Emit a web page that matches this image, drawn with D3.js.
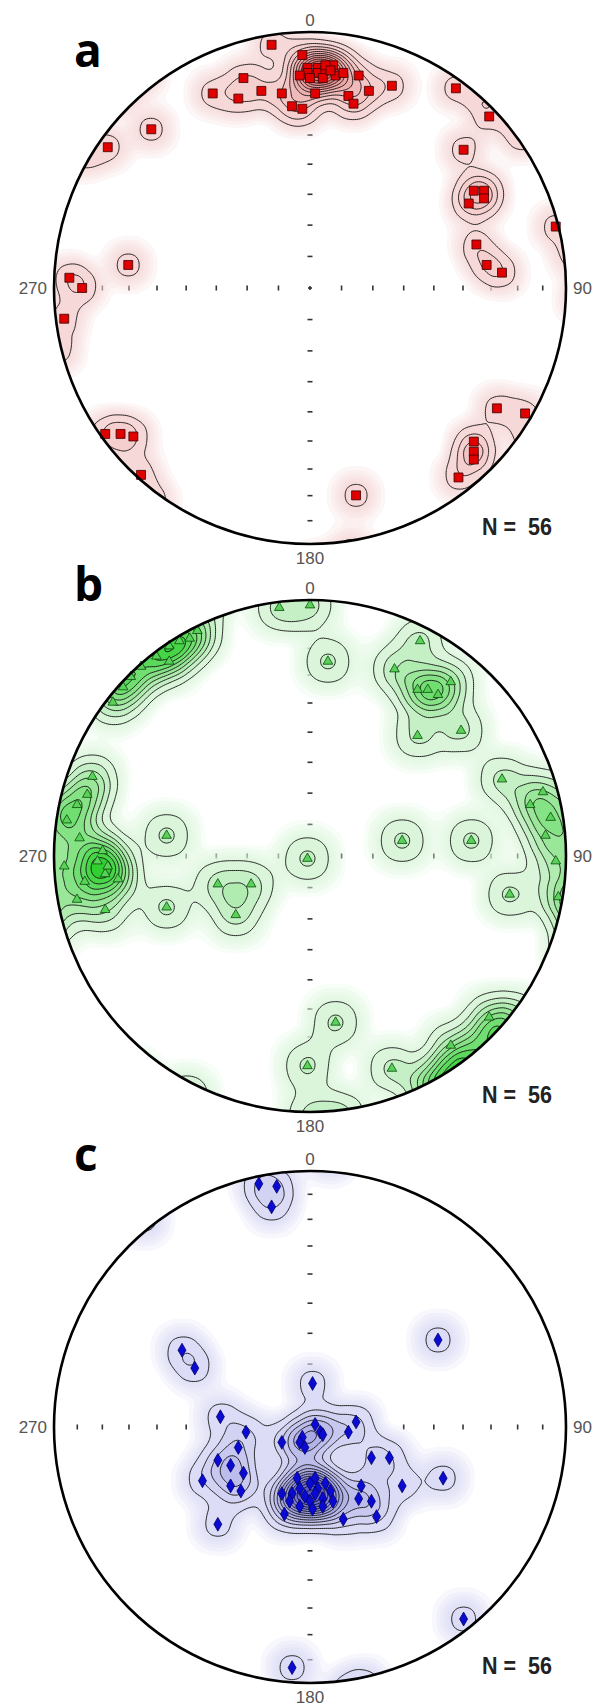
<!DOCTYPE html>
<html>
<head>
<meta charset="utf-8">
<script src="https://cdn.jsdelivr.net/npm/d3@7"></script>
<style>
  body { margin: 0; background: #fff; }
  svg { display: block; }
</style>
</head>
<body>
<div id="chart"></div>
<script>
// poles on the net, east / north as a fraction of the net radius
const aEast  = [-0.15,-0.03,-0.26,-0.38,-0.28,-0.19,-0.11,-0.07,-0.03,-0.01,0.03,-0.01,-0.04,0.03,0.06,0.09,0.10,0.13,0.19,0.23,0.32,0.02,0.15,0.17,0.06,0.05,0.08,0.00,
                0.57,0.70,-0.62,-0.79,0.60,0.64,0.68,0.62,0.68,0.65,0.69,0.75,0.96,-0.71,-0.94,-0.89,-0.96,-0.80,-0.74,-0.69,-0.66,0.73,0.84,0.64,0.64,0.64,0.58,0.18];
const aNorth = [0.95,0.91,0.82,0.76,0.74,0.77,0.76,0.71,0.70,0.86,0.86,0.84,0.83,0.84,0.85,0.87,0.83,0.84,0.83,0.77,0.79,0.76,0.75,0.72,0.87,0.82,0.85,0.82,
                0.78,0.67,0.62,0.55,0.54,0.38,0.38,0.33,0.35,0.17,0.09,0.06,0.24,0.09,0.04,0.00,-0.12,-0.57,-0.57,-0.58,-0.73,-0.47,-0.49,-0.60,-0.64,-0.67,-0.74,-0.81];

const bEast  = [-0.12,0.00,-0.44,-0.47,-0.55,-0.55,-0.66,-0.70,-0.77,-0.51,0.07,0.43,0.33,0.46,0.42,0.50,0.55,0.42,0.59,0.75,0.86,0.91,0.96,0.94,0.97,0.78,0.92,
                -0.56,-0.56,-0.36,-0.23,-0.29,-0.01,0.36,0.63,-0.91,-0.85,-0.95,-0.90,-0.83,-0.80,-0.81,-0.96,-0.91,-0.80,-0.75,-0.87,-0.79,0.10,-0.01,0.32,0.55,0.70,-0.60,-0.73,-0.88];
const bNorth = [0.97,0.98,0.88,0.85,0.82,0.76,0.74,0.70,0.60,0.84,0.76,0.84,0.73,0.65,0.65,0.63,0.68,0.47,0.49,0.30,0.20,0.25,-0.02,0.15,-0.16,-0.15,0.08,
                0.08,-0.20,-0.11,-0.11,-0.23,-0.01,0.06,0.06,0.20,0.31,0.14,0.07,-0.02,-0.07,0.02,-0.04,-0.17,-0.21,-0.09,0.24,-0.04,-0.65,-0.82,-0.83,-0.74,-0.63,0.78,0.66,-0.10];

const cEast  = [-0.20,-0.13,-0.15,-0.50,-0.45,0.50,0.01,-0.35,-0.25,-0.28,-0.36,-0.31,-0.26,-0.42,-0.31,-0.27,-0.36,0.18,0.15,0.02,0.04,0.05,-0.03,-0.04,-0.02,-0.11,
                0.24,0.31,0.20,0.36,0.19,0.24,0.26,0.13,0.52,0.60,-0.07,0.00,-0.04,0.03,0.06,-0.07,-0.02,0.02,0.05,-0.11,-0.08,0.00,-0.04,0.05,-0.10,0.01,0.08,0.09,-0.05,0.02];
const cNorth = [0.95,0.94,0.86,0.30,0.23,0.34,0.17,0.04,-0.02,-0.08,-0.13,-0.15,-0.18,-0.21,-0.23,-0.25,-0.38,0.02,-0.02,0.01,-0.02,-0.03,-0.04,-0.06,-0.08,-0.06,
                -0.12,-0.12,-0.23,-0.23,-0.28,-0.29,-0.35,-0.36,-0.20,-0.75,-0.94,-0.22,-0.24,-0.24,-0.22,-0.26,-0.27,-0.26,-0.28,-0.26,-0.29,-0.29,-0.31,-0.31,-0.34,-0.32,-0.25,-0.29,-0.20,-0.20];

const tickAngles = [10, 20, 30, 40, 50, 60, 70, 80];   // degrees from the centre
const panelLetters = ['a', 'b', 'c'];
const countLabel = 'N =  56';

const width = 600, height = 1706, R = 256, cx = 310;

const svg = d3.select('#chart').append('svg')
    .attr('width', width)
    .attr('height', height);
svg.append('rect').attr('width', width).attr('height', height).attr('fill', '#fff');

const panels = [
    { cy: 288,  east: aEast, north: aNorth, bw: 12, step: 0.6,  lo: '#f7d8d8', hi: '#dc6a6a',
      symbol: d3.symbolSquare, size: 80, fill: '#e10000', stroke: '#3a0000', letterY: -221 },
    { cy: 856,  east: bEast, north: bNorth, bw: 15, step: 0.38, lo: '#daf5da', hi: '#30d030',
      symbol: d3.symbolTriangle, size: 40, fill: '#5ad25a', stroke: '#0b4a0b', letterY: -255 },
    { cy: 1427, east: cEast, north: cNorth, bw: 13, step: 0.6, lo: '#dcdcf6', hi: '#5656c6',
      symbol: d3.symbolDiamond, size: 55, fill: '#0a0ad2', stroke: '#00006a', letterY: -256 }
];

const x = d3.scaleLinear().domain([-1, 1]).range([-R, R]);
const y = d3.scaleLinear().domain([-1, 1]).range([R, -R]);
// equal-area radius of an angle from the centre
const ea = a => Math.SQRT2 * Math.sin(a * Math.PI / 360);

panels.forEach((p, pi) => {
    const g = svg.append('g').attr('transform', `translate(${cx},${p.cy})`);
    const clipId = 'clip' + pi;
    g.append('clipPath').attr('id', clipId).append('circle').attr('r', R);

    g.append('circle').attr('r', R).attr('fill', '#fff');

    // ticks along the two diameters
    const t = g.append('g').attr('stroke', '#333').attr('stroke-width', 1.6);
    tickAngles.forEach(a => {
        [-1, 1].forEach(s => {
            t.append('line').attr('x1', x(s * ea(a))).attr('x2', x(s * ea(a)))
                .attr('y1', -2.5).attr('y2', 2.5);
            t.append('line').attr('y1', y(s * ea(a))).attr('y2', y(s * ea(a)))
                .attr('x1', -2.5).attr('x2', 2.5);
        });
    });
    t.append('line').attr('x1', -2).attr('x2', 2);
    t.append('line').attr('y1', -2).attr('y2', 2);

    // density: points near the rim also count on the opposite side
    const pts = [];
    p.east.forEach((e, i) => {
        const n = p.north[i];
        pts.push([e, n]);
        const r = Math.hypot(e, n);
        if (r > 0.7) {
            const k = -(2 - r) / r;
            pts.push([e * k, n * k]);
        }
    });
    const off = R + 70;
    const unit = p.step / (2 * Math.PI * p.bw * p.bw);
    const glowF = [0.1, 0.22, 0.36, 0.5, 0.65, 0.82];
    const levels = glowF.map(f => f * unit).concat(d3.range(1, 60).map(k => k * unit));
    const contours = d3.contourDensity()
        .x(d => x(d[0]) + off)
        .y(d => y(d[1]) + off)
        .size([2 * off, 2 * off])
        .cellSize(2)
        .bandwidth(p.bw)
        .thresholds(levels)(pts);

    const glow = contours.slice(0, glowF.length);
    const lines = contours.slice(glowF.length).filter(c => c.coordinates.length);
    const col = d3.interpolateRgb(p.lo, p.hi);
    const path = d3.geoPath();

    const layer = g.append('g').attr('clip-path', `url(#${clipId})`)
        .append('g').attr('transform', `translate(${-off},${-off})`);
    layer.selectAll('path.glow').data(glow).join('path')
        .attr('class', 'glow')
        .attr('d', path)
        .attr('fill', p.lo)
        .attr('fill-opacity', 0.22);
    layer.selectAll('path.lev').data(lines).join('path')
        .attr('class', 'lev')
        .attr('d', path)
        .attr('fill', (d, i) => col(lines.length > 1 ? i / (lines.length - 1) : 0))
        .attr('stroke', '#111')
        .attr('stroke-width', 0.9)
        .attr('stroke-linejoin', 'round');

    g.append('g').selectAll('path').data(p.east).join('path')
        .attr('transform', (e, i) => `translate(${x(e)},${y(p.north[i])})`)
        .attr('d', d3.symbol(p.symbol, p.size))
        .attr('fill', p.fill)
        .attr('stroke', p.stroke)
        .attr('stroke-width', 0.8);

    g.append('circle').attr('r', R)
        .attr('fill', 'none')
        .attr('stroke', '#000')
        .attr('stroke-width', 2.6);

    const lab = g.append('g')
        .attr('font-family', '"Liberation Sans", Arial, sans-serif')
        .attr('font-size', 17)
        .attr('fill', '#555');
    lab.append('text').attr('x', 0).attr('y', -262).attr('text-anchor', 'middle').text('0');
    lab.append('text').attr('x', 0).attr('y', 276).attr('text-anchor', 'middle').text('180');
    lab.append('text').attr('x', -263).attr('y', 6).attr('text-anchor', 'end').text('270');
    lab.append('text').attr('x', 263).attr('y', 6).attr('text-anchor', 'start').text('90');

    g.append('text')
        .attr('x', 172).attr('y', 247)
        .attr('font-family', '"Liberation Sans", Arial, sans-serif')
        .attr('font-weight', 'bold')
        .attr('font-size', 23)
        .attr('fill', '#222')
        .attr('textLength', 70)
        .attr('lengthAdjust', 'spacingAndGlyphs')
        .style('white-space', 'pre')
        .text(countLabel);

    g.append('text')
        .attr('x', -236).attr('y', p.letterY)
        .attr('font-family', '"Open Sans", sans-serif')
        .attr('font-weight', 700)
        .attr('font-size', 46)
        .attr('fill', '#000')
        .text(panelLetters[pi]);
});
</script>
</body>
</html>
